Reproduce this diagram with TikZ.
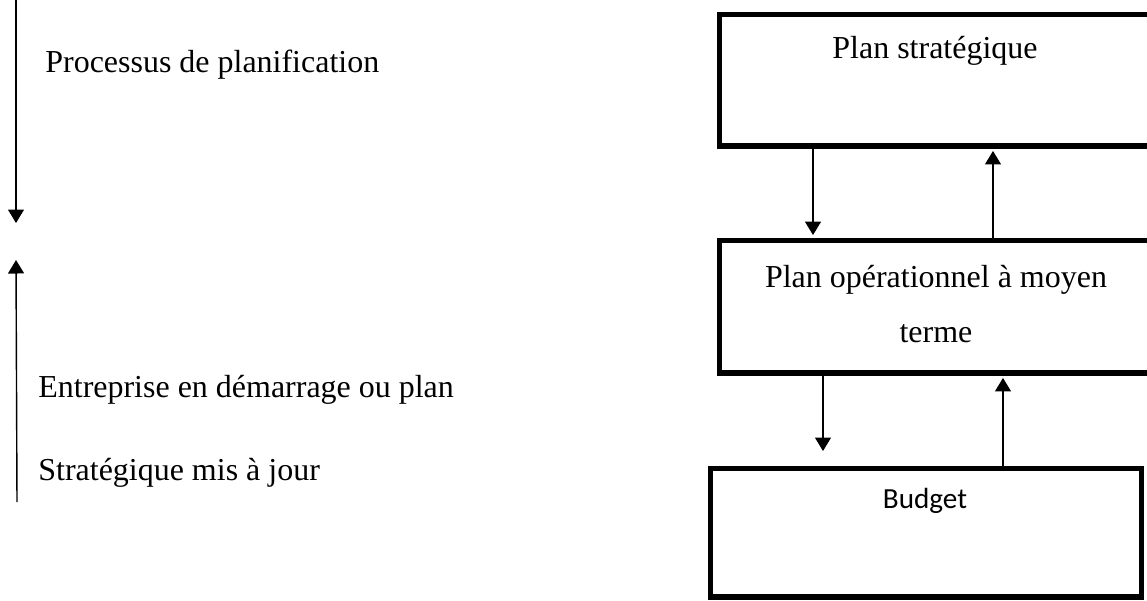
\documentclass[tikz,border=0pt]{standalone}
\usepackage{fontspec}
\setmainfont{Liberation Serif}
\newfontfamily\budgetfont{Carlito}
\usetikzlibrary{arrows.meta,positioning}

\begin{document}
\begin{tikzpicture}[x=0.02cm, y=-0.02cm,
		box/.style={draw, rectangle, line width=2.85pt, inner sep=0pt},
		txt/.style={font=\fontsize{18.2}{31.3}\selectfont, inner sep=0pt, anchor=base},
		arr/.style={-{Triangle[width=0.32cm,length=0.27cm]}, line width=0.8pt}]
		
		\useasboundingbox (0,0) rectangle (1147,600);
		
		% the three plans
		\node[box, minimum width=8.66cm, minimum height=2.64cm] (strat) at (935.5,80) {};
		\node[box, minimum width=8.66cm, minimum height=2.66cm] (oper) at (935.5,306.5) {};
		\node[box, minimum width=8.64cm, minimum height=2.58cm] (budget) at (926,532.5) {};
		
		\node[txt] (stratlbl) at (935,58) {Plan stratégique};
		\node[txt, align=center] (operlbl) at (936,342) {Plan opérationnel à moyen\\terme};
		\node[txt, font=\budgetfont\fontsize{16.6}{20}\selectfont] (budgetlbl) at (925,508) {Budget};
		
		\draw[arr, shorten >=1.4pt] (813,0 |- strat.south) -- (813,0 |- oper.north);
		\draw[arr, shorten >=1.4pt] (993,0 |- oper.north) -- (993,0 |- strat.south);
		\draw[arr, shorten >=0.29cm] (823,0 |- oper.south) -- (823,0 |- budget.north);
		\draw[arr, shorten >=1.4pt] (1003,0 |- budget.north) -- (1003,0 |- oper.south);
		
		% left side
		\coordinate (top) at (16,0);
		\coordinate (down) at (16,223);
		\coordinate (up) at (16,260);
		\coordinate (bottom) at (17,502);
		\draw[arr] (top) -- (down);
		\draw[arr] (bottom) -- (up);
		
		\node[txt, anchor=base west] (process) at (45,72) {Processus de planification};
		\node[txt, anchor=base west] (start1) at (38,397) {Entreprise en démarrage ou plan};
		\node[txt, anchor=base west] (start2) at (38,480) {Stratégique mis à jour};
		\end{tikzpicture}
\end{document}
